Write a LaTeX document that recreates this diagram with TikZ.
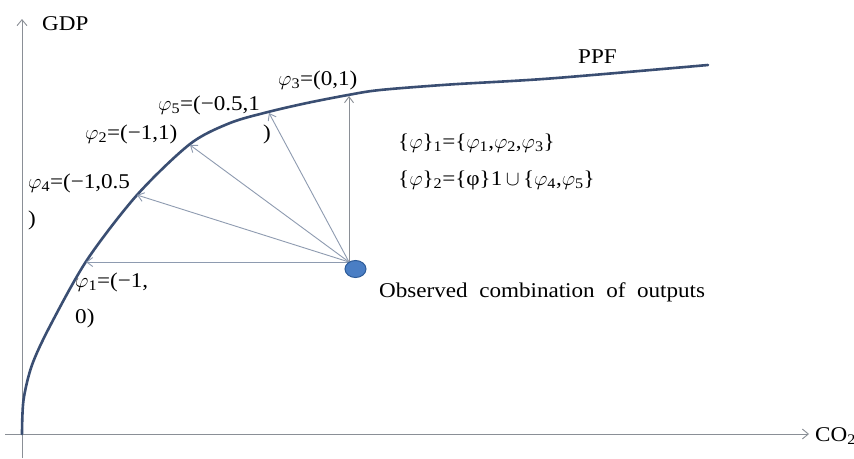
\documentclass[tikz,border=0pt]{standalone}
\usepackage{fontspec}
\setmainfont{Liberation Serif}[FakeStretch=1.1]
\usetikzlibrary{arrows.meta,shapes.geometric}
\definecolor{axisc}{HTML}{8A8F96}
\definecolor{arrc}{HTML}{8E9BB0}
\definecolor{curvec}{HTML}{3A4E72}
\definecolor{dotfill}{HTML}{4A7EC4}
\definecolor{dotdraw}{HTML}{2E5C99}
\newcommand{\vp}[1]{$\varphi$\textsubscript{#1}}
\tikzset{
  lbl/.style={anchor=base west, inner sep=0pt, text=black},
  axisline/.style={draw=axisc, line width=0.9pt},
  dirarrow/.style={draw=arrc, line width=0.9pt, -{Straight Barb[length=6pt,width=9pt]}},
  ppf/.style={draw=curvec, line width=2.6pt, line cap=round},
}
\begin{document}
\begin{tikzpicture}[x=1pt,y=-1pt,font=\fontsize{21}{25}\selectfont]
\useasboundingbox[fill=white] (0,0) rectangle (854,458);
% axes
\coordinate (ybot) at (22,458);
\coordinate (ytop) at (22,19);
\coordinate (xl) at (5,434);
\coordinate (xr) at (809,434);
\draw[axisline, -{Straight Barb[length=6pt,width=10pt]}] (ybot) -- (ytop);
\draw[axisline, -{Straight Barb[length=6pt,width=10pt]}] (xl) -- (xr);
\node[lbl] (gdp) at (42,30) {GDP};
\node[lbl] (co2) at (815,441) {CO\textsubscript{2}};
% PPF curve
\draw[ppf] plot[smooth, tension=0.5] coordinates {(22,434) (23.5,400) (32,365) (50,326) (87,260) (137,195) (190,144) (230,123) (268,112) (307,103) (348,95) (380,90) (450,84.5) (550,78.5) (708,65)};
\node[lbl] (ppflbl) at (578,63) {PPF};
% points on the curve
\coordinate (p1) at (86,262);
\coordinate (p4) at (137,195);
\coordinate (p2) at (190,145);
\coordinate (p5) at (269,113);
\coordinate (p3) at (349,96);
% observed point
\coordinate (o) at (349,262);
\draw[dirarrow] (o) -- (p1);
\draw[dirarrow] (o) -- (p4);
\draw[dirarrow] (o) -- (p2);
\draw[dirarrow] (o) -- (p5);
\draw[dirarrow, draw=axisc] (o) -- (p3);
\node[draw=dotdraw, fill=dotfill, line width=1pt, ellipse, minimum width=21pt, minimum height=17pt, inner sep=0pt] (obs) at (355.5,269) {};
\node[lbl] (obslbl) at (379,297) {Observed\ \ combination\ \ of\ \ outputs};
% labels
\node[lbl] (l3) at (278,85) {\vp{3}=(0,1)};
\node[lbl] (l5) at (158,110) {\vp{5}=(−0.5,1};
\node[lbl] (l5b) at (263,139) {)};
\node[lbl] (l2) at (85,139) {\vp{2}=(−1,1)};
\node[lbl] (l4) at (28,188) {\vp{4}=(−1,0.5};
\node[lbl] (l4b) at (28,225) {)};
\node[lbl] (l1) at (75,287) {\vp{1}=(−1,};
\node[lbl] (l1b) at (75,323) {0)};
\node[lbl] (s1) at (398,148) {\{$\varphi$\}\textsubscript{1}=\{\vp{1},\vp{2},\vp{3}\}};
\node[lbl] (s2) at (398,185) {\{$\varphi$\}\textsubscript{2}=\{φ\}1$\,\cup\,$\{\vp{4},\vp{5}\}};
\end{tikzpicture}
\end{document}
